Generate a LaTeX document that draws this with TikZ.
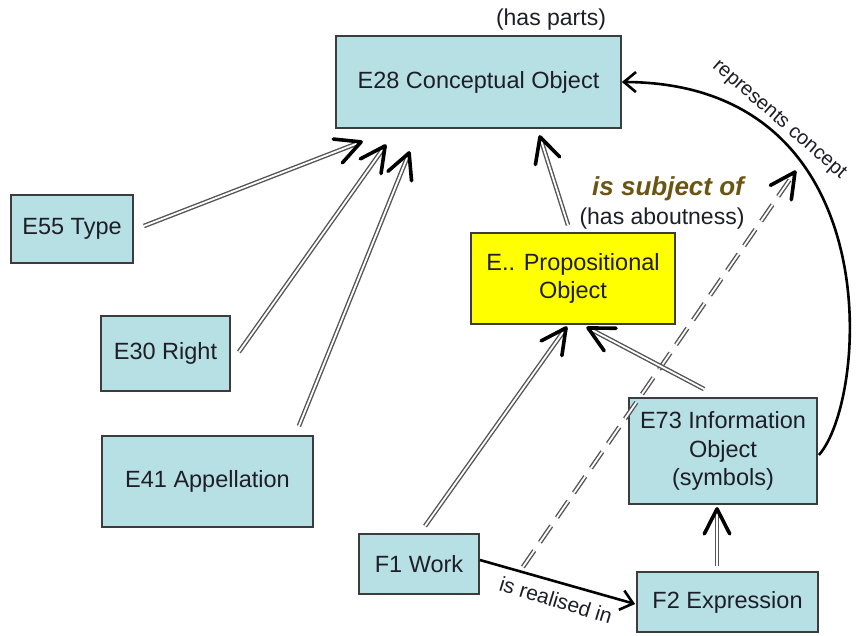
\documentclass[tikz,border=0pt]{standalone}
\usepackage{fontspec}
\setmainfont{Liberation Sans}
\usetikzlibrary{calc,arrows.meta}

\definecolor{boxfill}{HTML}{B7E0E5}
\definecolor{boxline}{HTML}{3C3C3C}
\definecolor{propfill}{HTML}{FFFF00}
\definecolor{relcol}{HTML}{6B5512}
\definecolor{dblgray}{HTML}{555555}
\definecolor{txt}{HTML}{1E1E28}

% inheritance link: grey double line with an open black V head
\newcommand\isalink[3][]{%
  \draw[isaline,#1] (#2) -- (#3);
  \draw[vhead] ($(#3)!28pt!27:(#2)$) -- (#3) -- ($(#3)!28pt!-27:(#2)$);}

\begin{document}
\begin{tikzpicture}[x=1pt,y=-1pt,
  cls/.style={draw=boxline, line width=1.8pt, fill=boxfill, inner sep=0pt,
    align=center, text=txt, font=\fontsize{23.5}{28.5}\selectfont},
  prop/.style={cls, fill=propfill},
  isaline/.style={draw=dblgray, line width=1.4pt, double=white, double distance=1.8pt},
  vhead/.style={draw=black, line width=3.6pt, line cap=round, line join=round},
  relline/.style={draw=black, line width=2.6pt, -{Straight Barb[length=12pt,width=20pt,line width=2.6pt]}},
  note/.style={text=txt, inner sep=0pt, font=\fontsize{23}{28}\selectfont},
]
\useasboundingbox (0,0) rectangle (857,635);

% classes
\node[cls, minimum width=285, minimum height=92] (e28) at (478.5,82) {E28 Conceptual Object};
\node[cls, minimum width=122, minimum height=68] (e55) at (72,229) {E55 Type};
\node[cls, minimum width=129, minimum height=75] (e30) at (165.5,353.5) {E30 Right};
\node[cls, minimum width=211, minimum height=91] (e41) at (207.5,481.5) {E41 Appellation};
\node[prop, minimum width=204, minimum height=91] (prop) at (573,278.5) {E.. Propositional\\Object};
\node[cls, minimum width=188, minimum height=106] (e73) at (723,451) {E73 Information\\Object\\(symbols)};
\node[cls, minimum width=120, minimum height=60] (f1) at (419,564) {F1 Work};
\node[cls, minimum width=181, minimum height=60] (f2) at (727.5,602) {F2 Expression};

% link end points
\coordinate (a1s) at ($(e55.east)+(10,-3)$);
\coordinate (a1e) at ($(e28.south west)+(26,13)$);
\coordinate (a2s) at ($(e30.east)+(8,-1.5)$);
\coordinate (a2e) at ($(e28.south west)+(50,17)$);
\coordinate (a3s) at ($(e41.north east)+(-15,-9)$);
\coordinate (a3e) at ($(e28.south west)+(74,24)$);
\coordinate (a4s) at ($(prop.north)+(-5,-7)$);
\coordinate (a4e) at ($(e28.south)+(61.5,8)$);
\coordinate (a5s) at ($(f1.north)+(6,-7)$);
\coordinate (a5e) at ($(prop.south)+(-7,3)$);
\coordinate (a6s) at ($(e73.north west)+(76,-8)$);
\coordinate (a6e) at ($(prop.south)+(15,3)$);
\coordinate (a7s) at ($(f2.north)+(-10.5,-5)$);
\coordinate (a7e) at ($(e73.south)+(-6,4)$);
\coordinate (ds) at ($(f1.east)+(43,3)$);
\coordinate (subj) at (795,172);

% is subject of (dashed double link)
\isalink[dashed, dash pattern=on 20pt off 10pt]{ds}{subj}

% specialisation links
\isalink{a1s}{a1e}
\isalink{a2s}{a2e}
\isalink{a3s}{a3e}
\isalink{a4s}{a4e}
\isalink{a5s}{a5e}
\isalink{a6s}{a6e}
\isalink{a7s}{a7e}

% represents concept
\draw[relline] ($(e73.east)+(1,4)$) .. controls (868,400) and (892,83) .. (e28.east);
\node[text=txt, inner sep=0pt, rotate=-41,
  font=\fontsize{20}{20}\selectfont] at (779,120) {represents concept};

% is realised in
\draw[relline] ($(f1.east)+(0,-4)$) -- ($(f2.west)+(-1,2)$);
\node[text=txt, inner sep=0pt, rotate=-17,
  font=\fontsize{21}{21}\selectfont] at (556,600) {is realised in};

% labels
\node[note] at (551,20) {(has parts)};
\node[text=relcol, inner sep=0pt, font=\fontsize{26}{26}\selectfont\bfseries\itshape] at (668,189) {is subject of};
\node[note] at (662,219) {(has aboutness)};
\end{tikzpicture}
\end{document}
